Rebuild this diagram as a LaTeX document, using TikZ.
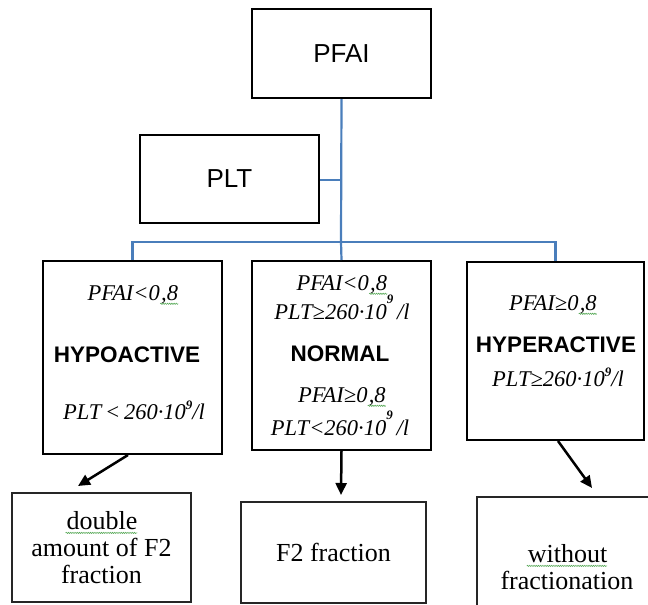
\documentclass[tikz,border=0pt]{standalone}
\usepackage{fontspec}
\setmainfont{Liberation Serif}
\newfontfamily\arialf{Liberation Sans}
\usetikzlibrary{arrows.meta,decorations.pathmorphing}
\definecolor{linkblue}{RGB}{74,126,187}
\definecolor{wavygreen}{RGB}{90,170,90}
\newcommand{\wavyu}[1]{\tikz[baseline=(w.base)]{\node[inner sep=0pt,outer sep=0pt,draw=none,minimum width=0pt,minimum height=0pt,line width=0.5pt](w){#1};\draw[draw=wavygreen,line width=0.6pt,decorate,decoration={snake,amplitude=0.6pt,segment length=2.2pt}]([yshift=-3.5pt,xshift=-1pt]w.base west)--([yshift=-3.5pt]w.base east);}}
\newcommand{\supn}[2][0.45em]{\raisebox{#1}{\fontsize{13}{13}\selectfont\bfseries #2}}
\tikzset{
 box/.style={draw=black, line width=2pt, minimum width=179pt, inner sep=0pt},
 lowbox/.style={draw=black!85, line width=1.3pt, inner sep=0pt, align=center, font=\fontsize{26}{27}\selectfont},
 head/.style={font=\arialf\fontsize{26}{30}\selectfont},
 cat/.style={font=\arialf\bfseries\fontsize{22.5}{27}\selectfont, inner sep=0pt},
 cond/.style={font=\itshape\fontsize{22.5}{24}\selectfont, inner sep=0pt},
 link/.style={draw=linkblue, line width=2.2pt},
 arr/.style={draw=black, line width=2.5pt, -{Triangle[length=12pt,width=11pt]}},
}
\begin{document}
\begin{tikzpicture}[x=1pt,y=-1pt]
\useasboundingbox (0,0) rectangle (648,605);
\clip (0,0) rectangle (648,605);
% top boxes
\node[box, minimum height=89pt, head] (PFAI) at (341.5,53.5) {PFAI};
\node[box, minimum height=88pt, head] (PLT) at (229.5,179) {PLT};
% category boxes
\node[box, minimum height=193pt] (L) at (132.5,357.5) {};
\node[box, minimum height=189pt] (M) at (341.5,355.5) {};
\node[box, minimum width=177pt, minimum height=178pt] (R) at (555.5,351) {};
% left texts
\node[cond] (l1) at (133,295) {PFAI<0\wavyu{,8}};
\node[cat] (l2) at (127,355) {HYPOACTIVE};
\node[cond] (l3) at (134,410) {PLT\,<\,260·10\supn{9}/l};
% middle texts
\node[cond] (m1) at (342,285) {PFAI<0\wavyu{,8}};
\node[cond] (m2) at (342,307) {PLT≥260·10\supn[0.7em]{9}\,/l};
\node[cat] (m3) at (340,354) {NORMAL};
\node[cond] (m4) at (342,397) {PFAI≥0\wavyu{,8}};
\node[cond] (m5) at (340,423) {PLT<260·10\supn[0.7em]{9}\,/l};
% right texts
\node[cond] (r1) at (553,305) {PFAI≥0\wavyu{,8}};
\node[cat] (r2) at (556,345) {HYPERACTIVE};
\node[cond] (r3) at (558,377) {PLT≥260·10\supn{9}/l};
% bottom boxes
\node[lowbox, minimum width=179pt, minimum height=109pt] (B1) at (101.5,547.5) {\wavyu{double}\\amount of F2\\fraction};
\node[lowbox, minimum width=185pt, minimum height=101pt] (B2) at (333.5,552.5) {F2 fraction};
\node[lowbox, minimum width=180pt, minimum height=140pt] (B3) at (567,567) {\wavyu{without}\\fractionation};
% blue connectors
\coordinate (J) at (341,242);
\coordinate (J1) at (341,180);
\draw[link] (PFAI.south) -- (J) -- (M.north);
\draw[link] (PLT.east |- J1) -- (J1);
\draw[link] (L.north) -- (L.north |- J) -- (R.north |- J) -- (R.north);
% arrows
\coordinate (t1) at (78,486);
\coordinate (t2) at (341,495);
\coordinate (t3) at (592,488);
\draw[arr] ([xshift=-4.5pt]L.south) -- (t1);
\draw[arr] (M.south) -- (t2);
\draw[arr] ([xshift=2.5pt]R.south) -- (t3);
\end{tikzpicture}
\end{document}
